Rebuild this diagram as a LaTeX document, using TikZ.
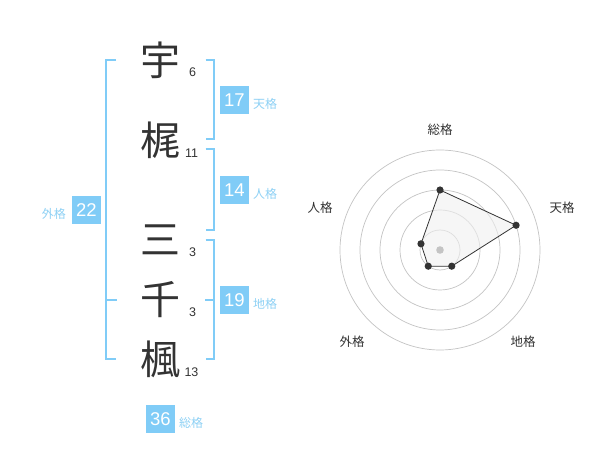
\documentclass[tikz,border=0pt]{standalone}
\usepackage{fontspec}
\newfontfamily\jp{Noto Sans CJK JP}
\newfontfamily\num{Liberation Sans}
\usepackage{tikz}
\usetikzlibrary{positioning, calc}
\definecolor{kakublue}{HTML}{80CCF7}
\definecolor{kakulabel}{HTML}{8ED1F5}
\definecolor{ink}{HTML}{333333}
\definecolor{ringgray}{HTML}{C4C4C4}
\tikzstyle{kanji} = [inner sep=0pt, text=ink, font=\jp\fontsize{40}{40}\selectfont]
\tikzstyle{strokes} = [inner sep=0pt, text=ink, font=\num\fontsize{12.5}{12.5}\selectfont]
\tikzstyle{numbox} = [rectangle, minimum width=29pt, minimum height=28pt, inner sep=0pt, fill=kakublue, text=white, font=\num\fontsize{18.5}{18.5}\selectfont]
\tikzstyle{kakutext} = [inner sep=0pt, text=kakulabel, font=\jp\fontsize{12}{12}\selectfont]
\tikzstyle{bracket} = [draw=kakublue, line width=2pt]
\tikzstyle{ring} = [draw=ringgray, line width=0.7pt]
\tikzstyle{axislabel} = [inner sep=0pt, text=ink, font=\jp\fontsize{12.5}{12.5}\selectfont]
\tikzstyle{poly} = [draw=ink, fill=black!6, line width=0.8pt]

\begin{document}
\begin{tikzpicture}[x=1pt, y=-1pt]
        \fill[white] (0,0) rectangle (600,470);
        \useasboundingbox (0,0) rectangle (600,470);

        \node[kanji] (u) at (160,60) {宇};
        \node[kanji] (kaji) at (160,140) {梶};
        \node[kanji] (san) at (160,240) {三};
        \node[kanji] (sen) at (160,300) {千};
        \node[kanji] (kaede) at (160,360) {楓};
        \node[strokes] (uN) at (192.5,72.5) {6};
        \node[strokes] (kajiN) at (191.5,153) {11};
        \node[strokes] (sanN) at (192.5,252.5) {3};
        \node[strokes] (senN) at (192.5,312.5) {3};
        \node[strokes] (kaedeN) at (191.5,372.5) {13};

        \node[numbox] (ten) at (234.5,100) {17};
        \node[numbox] (jin) at (234.5,190) {14};
        \node[numbox] (chi) at (234.5,300) {19};
        \node[numbox] (gai) at (86.5,210) {22};
        \node[numbox] (sou) at (160.5,419) {36};
        \node[kakutext, anchor=west] (tenL) at (253,104) {天格};
        \node[kakutext, anchor=west] (jinL) at (253,194) {人格};
        \node[kakutext, anchor=west] (chiL) at (253,304) {地格};
        \node[kakutext, anchor=east] (gaiL) at (66,214) {外格};
        \node[kakutext, anchor=west] (souL) at (179,423) {総格};

        \coordinate (tenA) at (205.5,60);
        \coordinate (tenB) at (205.5,139.5);
        \coordinate (jinA) at (205.5,149.5);
        \coordinate (jinB) at (205.5,230);
        \coordinate (chiA) at (205.5,240);
        \coordinate (chiB) at (205.5,359.5);
        \coordinate (gaiA) at (116,60);
        \coordinate (gaiB) at (116,359.5);

        \draw[bracket] (tenA) -| ([xshift=-6pt]ten.west) |- (tenB);
        \draw[bracket] (jinA) -| ([xshift=-6pt]jin.west) |- (jinB);
        \draw[bracket] (chiA) -| ([xshift=-6pt]chi.west) |- (chiB);
        \draw[bracket] ([xshift=-6pt]chi.west) -- ([xshift=-14.5pt]chi.west);
        \draw[bracket] (gaiA) -| ([xshift=4.5pt]gai.east) |- (gaiB);
        \draw[bracket] ([xshift=4.5pt]gai.east |- chi.west) -- ([xshift=15.5pt]gai.east |- chi.west);

        \coordinate (c) at (440,250);
        \foreach \r in {20,40,60,80,100}
            \draw[ring] (c) circle[radius=\r pt];

        \coordinate (pSou) at ($(c)+(90:60pt)$);
        \coordinate (pTen) at ($(c)+(18:80pt)$);
        \coordinate (pChi) at ($(c)+(-54:20pt)$);
        \coordinate (pGai) at ($(c)+(-126:20pt)$);
        \coordinate (pJin) at ($(c)+(162:20pt)$);
        \draw[poly, fill opacity=0.6] (pSou) -- (pTen) -- (pChi) -- (pGai) -- (pJin) -- cycle;
        \fill[ringgray] (c) circle[radius=3.8pt];
        \foreach \p in {pSou,pTen,pChi,pGai,pJin}
            \fill[ink] (\p) circle[radius=3.6pt];

        \node[axislabel] (souA) at (440,130) {総格};
        \node[axislabel] (tenA2) at (562,208) {天格};
        \node[axislabel] (jinA2) at (320,208) {人格};
        \node[axislabel] (gaiA2) at (352,342) {外格};
        \node[axislabel] (chiA2) at (523,342) {地格};
    \end{tikzpicture}
\end{document}
